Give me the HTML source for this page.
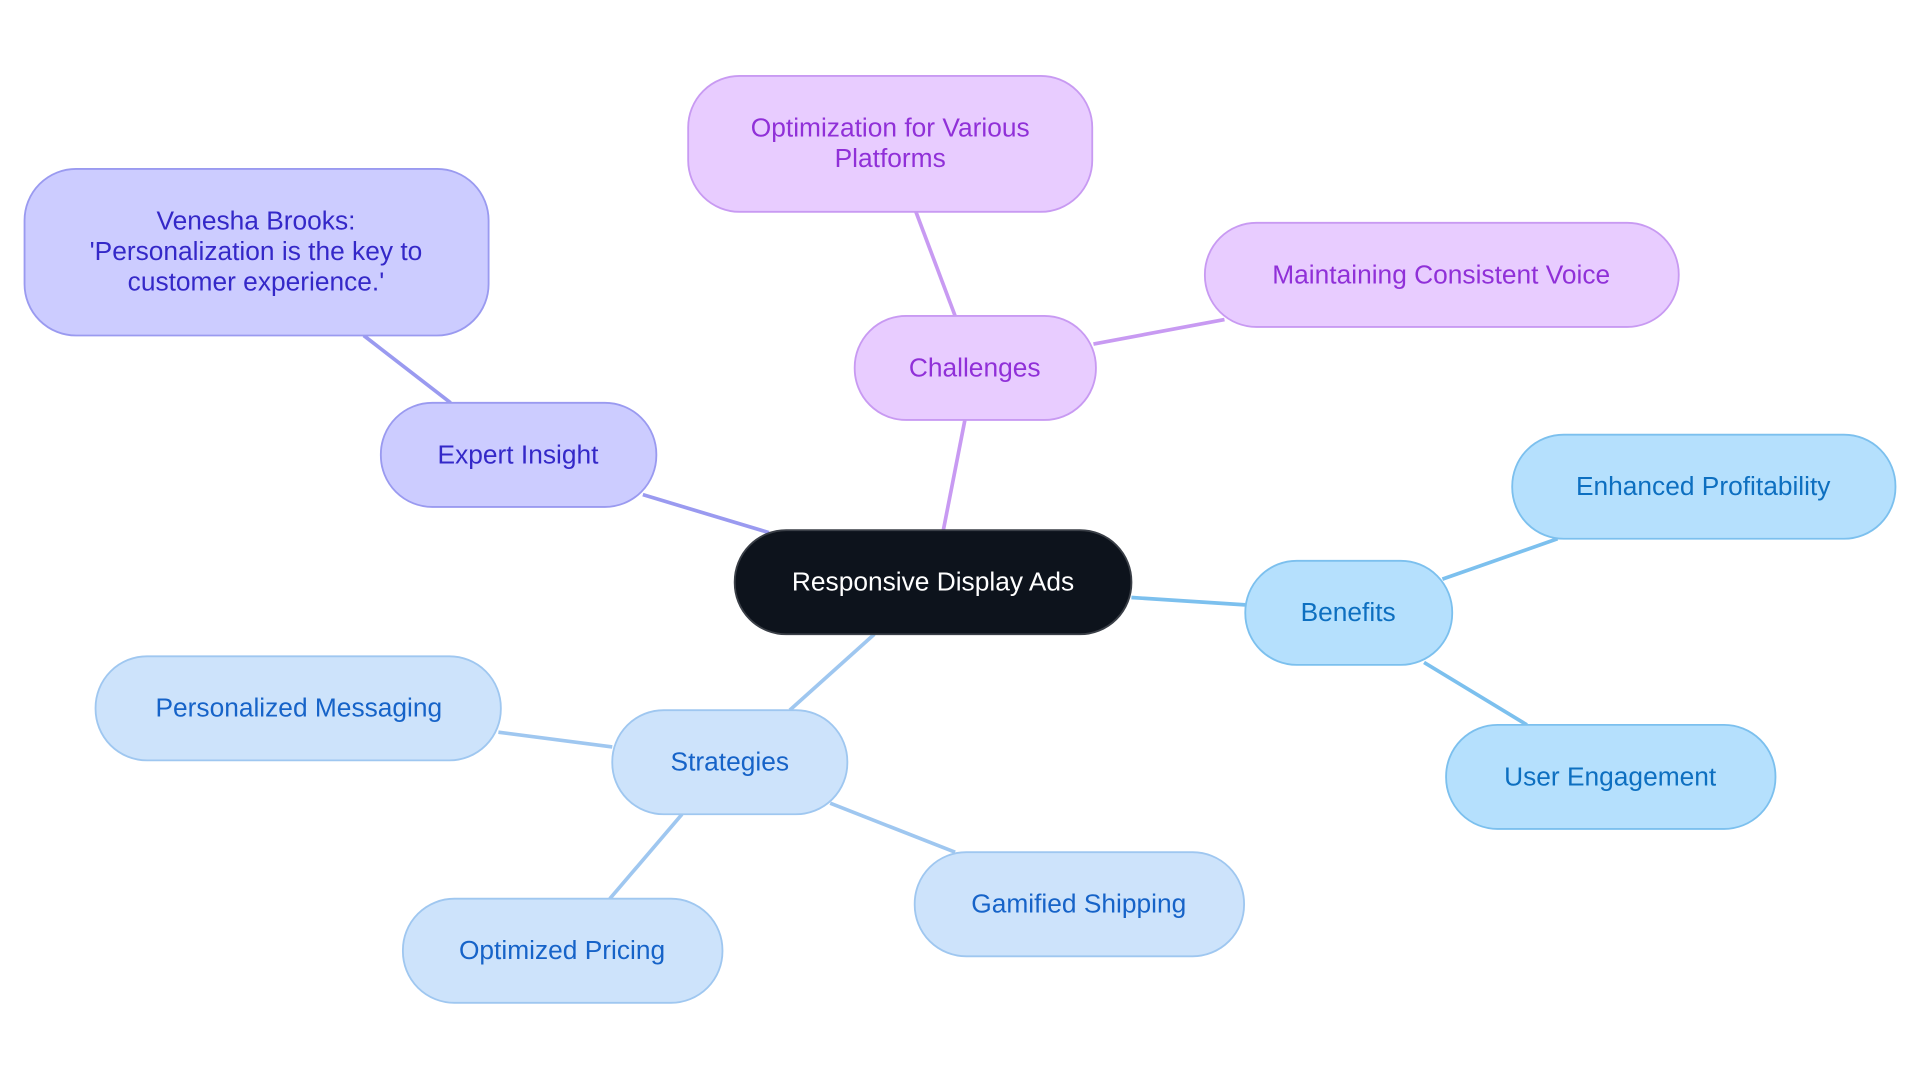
<!DOCTYPE html>
<html><head><meta charset="utf-8"><style>html,body{margin:0;padding:0;background:#fff;width:1920px;height:1083px;overflow:hidden}svg text{font-family:"Liberation Sans",sans-serif;font-size:21.5px;text-anchor:middle;dominant-baseline:central}</style></head><body>
<svg width="1920" height="1083" viewBox="0 0 1568 884.5" xmlns="http://www.w3.org/2000/svg">
<g stroke-width="3" fill="none">
<line x1="770" y1="435" x2="788" y2="343" stroke="#c89af2"/>
<line x1="780" y1="258" x2="748" y2="173" stroke="#c89af2"/>
<line x1="893" y1="281" x2="1000" y2="261" stroke="#c89af2"/>
<line x1="628" y1="435" x2="525" y2="404" stroke="#9a9af0"/>
<line x1="368" y1="329" x2="297" y2="274" stroke="#9a9af0"/>
<line x1="924" y1="488" x2="1017" y2="494" stroke="#7cc0ee"/>
<line x1="1178" y1="473" x2="1272" y2="440" stroke="#7cc0ee"/>
<line x1="1163" y1="541" x2="1247" y2="592" stroke="#7cc0ee"/>
<line x1="714" y1="518" x2="645" y2="580" stroke="#9fc7f0"/>
<line x1="500" y1="610" x2="407" y2="598" stroke="#9fc7f0"/>
<line x1="557" y1="665" x2="498" y2="734" stroke="#9fc7f0"/>
<line x1="678" y1="656" x2="780" y2="696" stroke="#9fc7f0"/>
</g>
<g stroke-width="1.5">
<rect x="600" y="433" width="324" height="85" rx="42" fill="#0d131c" stroke="#3a3f47"/>
<rect x="698" y="258" width="197" height="85" rx="42" fill="#e8ccff" stroke="#c89af2"/>
<rect x="562" y="62" width="330" height="111" rx="42" fill="#e8ccff" stroke="#c89af2"/>
<rect x="984" y="182" width="387" height="85" rx="42" fill="#e8ccff" stroke="#c89af2"/>
<rect x="311" y="329" width="225" height="85" rx="42" fill="#ccccff" stroke="#9a9af0"/>
<rect x="20" y="138" width="379" height="136" rx="42" fill="#ccccff" stroke="#9a9af0"/>
<rect x="1017" y="458" width="169" height="85" rx="42" fill="#b5e0fd" stroke="#7cc0ee"/>
<rect x="1235" y="355" width="313" height="85" rx="42" fill="#b5e0fd" stroke="#7cc0ee"/>
<rect x="1181" y="592" width="269" height="85" rx="42" fill="#b5e0fd" stroke="#7cc0ee"/>
<rect x="500" y="580" width="192" height="85" rx="42" fill="#cde3fb" stroke="#9fc7f0"/>
<rect x="78" y="536" width="331" height="85" rx="42" fill="#cde3fb" stroke="#9fc7f0"/>
<rect x="329" y="734" width="261" height="85" rx="42" fill="#cde3fb" stroke="#9fc7f0"/>
<rect x="747" y="696" width="269" height="85" rx="42" fill="#cde3fb" stroke="#9fc7f0"/>
</g>
<text x="762" y="475" fill="#fff">Responsive Display Ads</text>
<g fill="#9030d8">
<text x="796" y="300">Challenges</text>
<text x="727" y="104">Optimization for Various</text>
<text x="727" y="129">Platforms</text>
<text x="1177" y="224">Maintaining Consistent Voice</text>
</g>
<g fill="#3428c8">
<text x="423" y="371">Expert Insight</text>
<text x="209" y="180">Venesha Brooks:</text>
<text x="209" y="205">'Personalization is the key to</text>
<text x="209" y="230">customer experience.'</text>
</g>
<g fill="#0d6fc0">
<text x="1101" y="500">Benefits</text>
<text x="1391" y="397">Enhanced Profitability</text>
<text x="1315" y="634">User Engagement</text>
</g>
<g fill="#1663c8">
<text x="596" y="622">Strategies</text>
<text x="244" y="578">Personalized Messaging</text>
<text x="459" y="776">Optimized Pricing</text>
<text x="881" y="738">Gamified Shipping</text>
</g>
</svg>
</body></html>
